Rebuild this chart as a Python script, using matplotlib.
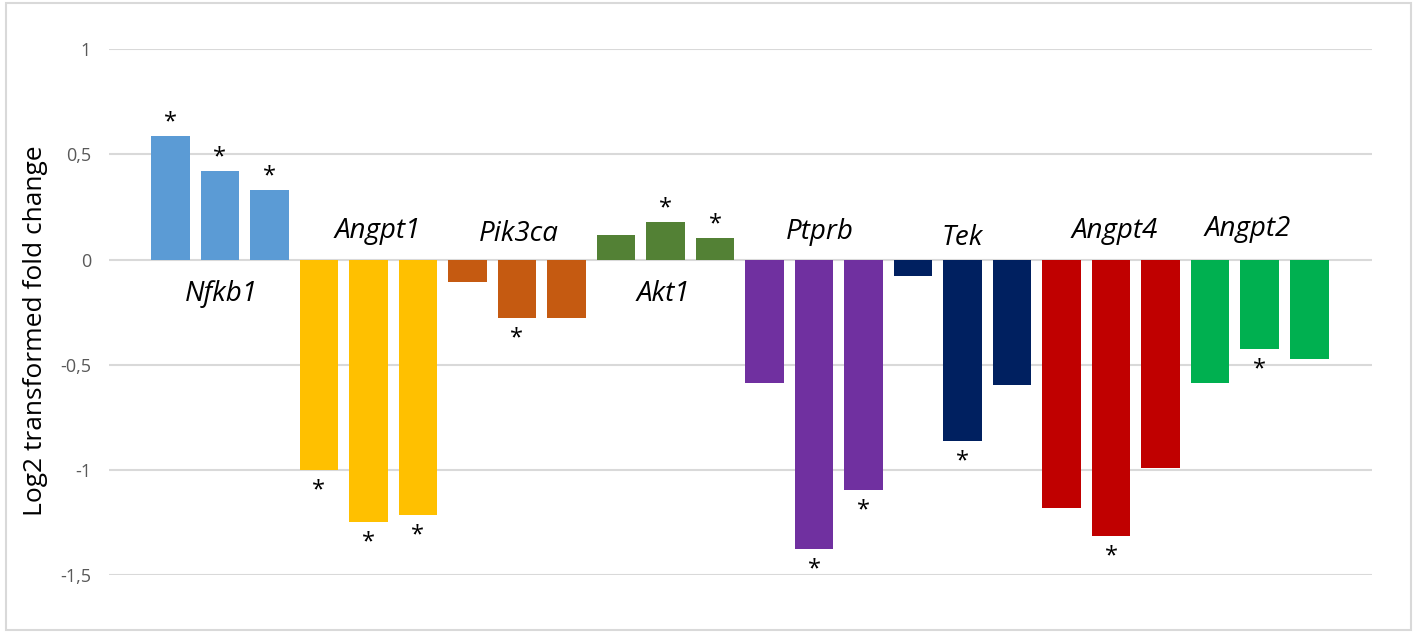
import matplotlib
matplotlib.use("Agg")
import matplotlib.pyplot as plt
from matplotlib.patches import Rectangle

# ---------------- Data ----------------
genes = ['Nfkb1', 'Angpt1', 'Pik3ca', 'Akt1', 'Ptprb', 'Tek', 'Angpt4', 'Angpt2']
colors = ['#5B9BD5', '#FFC000', '#C55A11', '#538135', '#7030A0', '#002060', '#C00000', '#00B050']
values = [
    [0.59, 0.42, 0.33],       # Nfkb1
    [-1.00, -1.25, -1.215],   # Angpt1
    [-0.105, -0.28, -0.28],   # Pik3ca
    [0.115, 0.178, 0.103],    # Akt1
    [-0.588, -1.375, -1.098], # Ptprb
    [-0.077, -0.862, -0.598], # Tek
    [-1.18, -1.317, -0.99],   # Angpt4
    [-0.585, -0.425, -0.475], # Angpt2
]
significant = [
    [1, 1, 1],
    [1, 1, 1],
    [0, 1, 0],
    [0, 1, 1],
    [0, 1, 1],
    [0, 1, 0],
    [0, 1, 0],
    [0, 1, 0],
]
y_ticks = [1, 0.5, 0, -0.5, -1, -1.5]
y_tick_labels = ['1', '0,5', '0', '-0,5', '-1', '-1,5']

# ---------------- Layout of gene labels (offset from middle bar, baseline y) ----------------
label_dx = [0.02, 0.18, 0.04, -0.05, 0.11, 0.0, 0.08, -0.24]
label_y = [-0.196, 0.103, 0.09, -0.196, 0.10, 0.071, 0.104, 0.114]

plt.rcParams['font.family'] = ['Open Sans', 'DejaVu Sans']

fig = plt.figure(figsize=(14.17, 6.34), dpi=100)
ax = fig.add_axes([0.0769, 0.0931, 0.8914, 0.8291])

# ---------------- Bars + significance marks ----------------
for g, gene in enumerate(genes):
    for j, v in enumerate(values[g]):
        x = g * 3 + j
        ax.bar(x, v, width=0.78, color=colors[g], zorder=3)
        if significant[g][j]:
            if v > 0:
                ax.annotate('*', (x, v), xytext=(0, 1), textcoords='offset points',
                            ha='center', va='bottom', fontsize=17, color='black')
            else:
                ax.annotate('*', (x, v), xytext=(0, -6), textcoords='offset points',
                            ha='center', va='top', fontsize=17, color='black')

    ax.text(g * 3 + 1 + label_dx[g], label_y[g], gene, ha='center', va='baseline',
            fontsize=20, style='italic', color='black')

# ---------------- Axes ----------------
ax.set_xlim(-1.24, 24.27)
ax.set_ylim(-1.5, 1)
ax.set_yticks(y_ticks)
ax.set_yticklabels(y_tick_labels, color='#595959', fontsize=13)
ax.set_xticks([])
ax.tick_params(axis='y', length=0, pad=13)
for s in ax.spines.values():
    s.set_visible(False)
ax.grid(axis='y', color='#D9D9D9', linewidth=1.5, zorder=0)

fig.text(36 / 1417, 1 - 331 / 634, 'Log2 transformed fold change', rotation=90,
         ha='center', va='center', fontsize=19, color='black')

# chart border
fig.patches.append(Rectangle((0.004, 0.006), 0.992, 0.99, transform=fig.transFigure,
                             fill=False, edgecolor='#D9D9D9', linewidth=1.5))

plt.savefig('out.png', dpi=100)
